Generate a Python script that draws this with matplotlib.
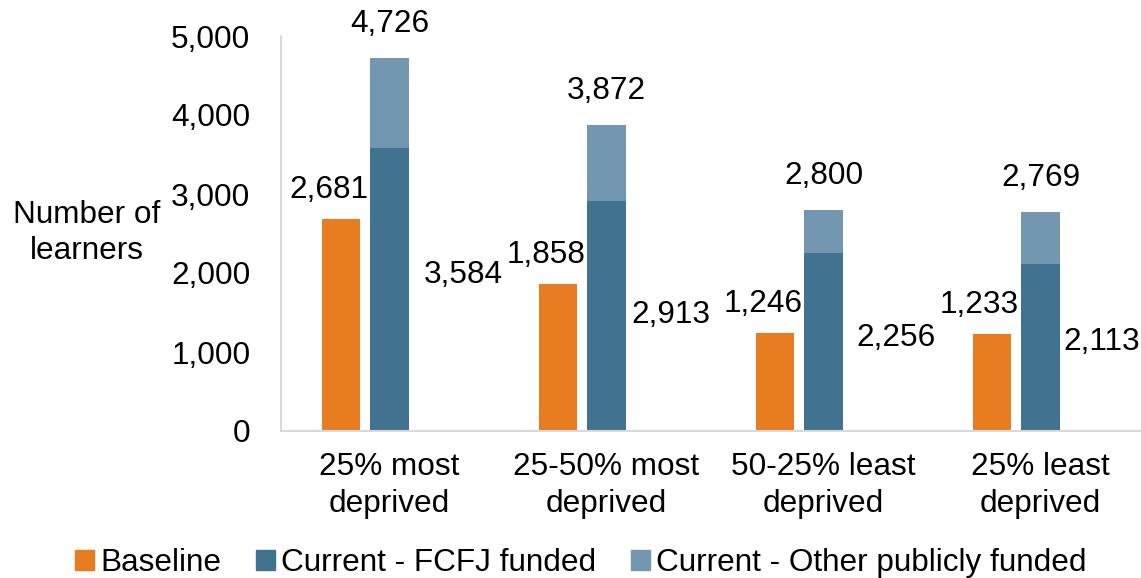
import matplotlib
matplotlib.use("Agg")
import matplotlib.pyplot as plt
import numpy as np
from matplotlib.patches import Patch

plt.rcParams["font.family"] = ["Liberation Sans", "DejaVu Sans"]

# --- données ---
categories = ["25% most\ndeprived", "25-50% most\ndeprived",
              "50-25% least\ndeprived", "25% least\ndeprived"]
baseline = [2681, 1858, 1246, 1233]
fcfj = [3584, 2913, 2256, 2113]
other_public = [1142, 959, 544, 656]   # total - fcfj
totals = [4726, 3872, 2800, 2769]

ORANGE, DARK, LIGHT = "#E77D20", "#41728F", "#7397B0"
FS = 22.7

# hauteur des étiquettes FCFJ (fraction de la barre), comme dans l'original
fcfj_label_frac = [0.551, 0.504, 0.522, 0.533]
fcfj_label_dx = [15, 6, 14, 4]   # px à droite de la barre

W, H = 1141, 578
fig = plt.figure(figsize=(W / 100, H / 100), dpi=100)
ax = fig.add_axes([281 / W, 1 - 431 / H, 868 / W, (431 - 36) / H])

x = np.arange(len(categories))
bw = 0.177
off = 0.2235

ax.bar(x - off, baseline, bw, color=ORANGE, zorder=2)
ax.bar(x, fcfj, bw, color=DARK, zorder=2)
ax.bar(x, other_public, bw, bottom=fcfj, color=LIGHT, zorder=2)

ax.set_xlim(-0.5, 3.5)
ax.set_ylim(0, 5000)
ax.set_yticks(range(0, 5001, 1000))
ax.set_yticklabels([f"{v:,}" for v in range(0, 5001, 1000)], fontsize=FS)
ax.set_xticks(x)
ax.set_xticklabels(categories, fontsize=FS, linespacing=1.3)
ax.tick_params(axis="y", length=0, pad=22)
ax.tick_params(axis="x", length=0, pad=15)

for s in ("top", "right"):
    ax.spines[s].set_visible(False)
for s in ("left", "bottom"):
    ax.spines[s].set_color("#d9d9d9")
    ax.spines[s].set_linewidth(1.5)

k = 0.72  # px -> points
for i in range(len(categories)):
    ax.annotate(f"{baseline[i]:,}", (x[i] - off + bw / 2, baseline[i]),
                xytext=(8 * k, 29 * k), textcoords="offset points",
                ha="right", va="center", fontsize=FS)
    ax.annotate(f"{totals[i]:,}", (x[i], totals[i]),
                xytext=(0, 34 * k), textcoords="offset points",
                ha="center", va="center", fontsize=FS)
    ax.annotate(f"{fcfj[i]:,}", (x[i] + bw / 2, fcfj[i] * fcfj_label_frac[i]),
                xytext=(fcfj_label_dx[i] * k, 0), textcoords="offset points",
                ha="left", va="center", fontsize=FS)

fig.text(87 / W, 1 - 233 / H, "Number of\nlearners", ha="center", va="center",
         fontsize=FS, multialignment="center", linespacing=1.25)

handles = [Patch(color=ORANGE), Patch(color=DARK), Patch(color=LIGHT)]
labels = ["Baseline", "Current - FCFJ funded", "Current - Other publicly funded"]
fig.legend(handles, labels, loc="center", bbox_to_anchor=(581 / W, 1 - 563 / H),
           ncol=3, frameon=False, fontsize=FS, handlelength=0.6, handleheight=0.6,
           handletextpad=0.2, columnspacing=1.1, borderaxespad=0)

fig.savefig("out.png", dpi=100, facecolor="white")
